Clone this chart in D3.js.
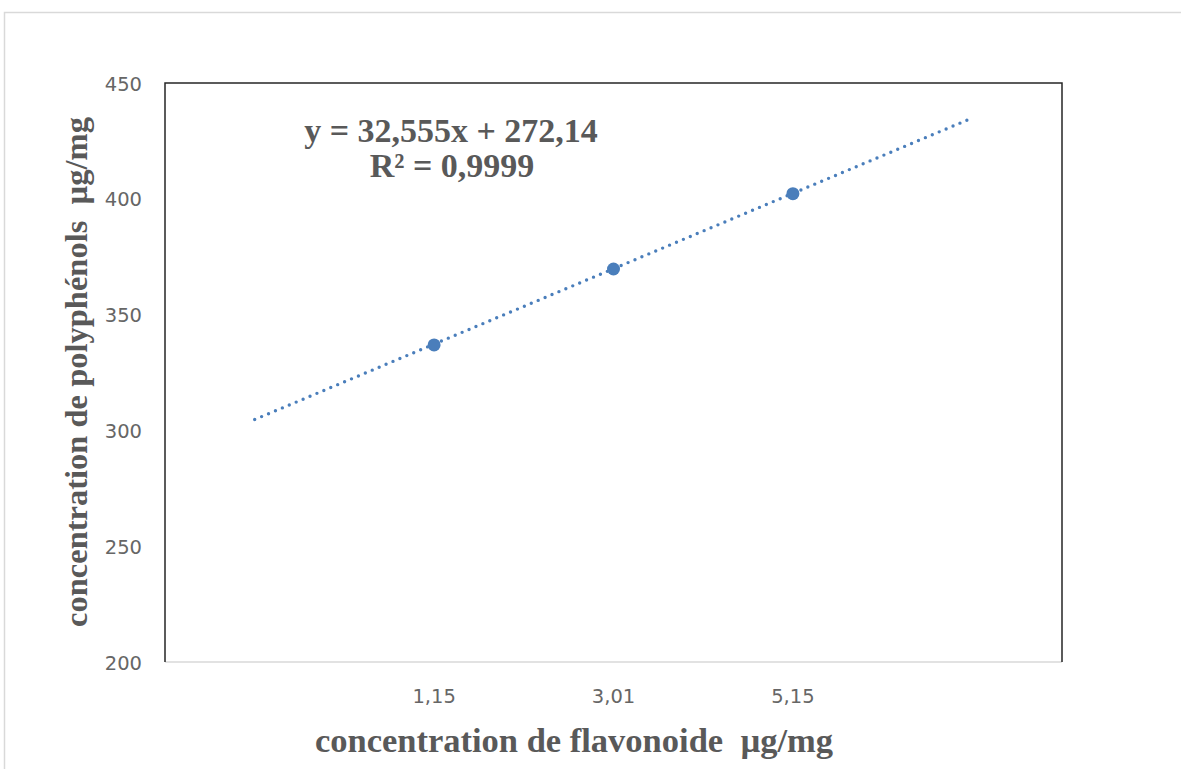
<!DOCTYPE html>
<html>
<head>
<meta charset="utf-8">
<script src="https://cdn.jsdelivr.net/npm/d3@7"></script>
<style>
  body { margin: 0; background: #fff; }
  svg { display: block; }
</style>
</head>
<body>
<svg width="1181" height="769"></svg>
<script>
// data
const categories = ['1,15', '3,01', '5,15'];
const polyphenols = [336.9, 369.7, 402.2];
const slope = 32.555, intercept = 272.14;   // trendline, x = 1..5 index
const trendRange = [1, 5];
const yTicks = [200, 250, 300, 350, 400, 450];

const svg = d3.select('svg');
const grey = '#595959', blue = '#4a7ebb';
const serif = 'Liberation Serif, Times New Roman, serif';
const sans = 'DejaVu Sans, sans-serif';

// outer frame
svg.append('rect').attr('x', 4.5).attr('y', 12.5).attr('width', 1190).attr('height', 800)
    .attr('fill', 'none').attr('stroke', '#d9d9d9').attr('stroke-width', 1.5);

const pLeft = 165, pRight = 1062, pTop = 83, pBottom = 662;

// index 0..6, points sit at 2,3,4 -> shift by half a category
const x = d3.scaleLinear().domain([0.5, 5.5]).range([pLeft, pRight]);
const y = d3.scaleLinear().domain([200, 450]).range([pBottom, pTop]);

// plot box
svg.append('line').attr('x1', pLeft).attr('x2', pRight).attr('y1', pBottom).attr('y2', pBottom)
    .attr('stroke', '#d9d9d9').attr('stroke-width', 1.5);
svg.append('path')
    .attr('d', `M${pLeft},${pBottom}V${pTop}H${pRight}V${pBottom}`)
    .attr('fill', 'none').attr('stroke', '#262626').attr('stroke-width', 1.5);

// y tick labels
svg.append('g').selectAll('text').data(yTicks).enter().append('text')
    .attr('x', pLeft - 23).attr('y', d => y(d) + 7.5)
    .attr('text-anchor', 'end')
    .attr('font-family', sans).attr('font-size', 19.5)
    .attr('fill', '#666').text(d => d);

// x tick labels
svg.append('g').selectAll('text').data(categories).enter().append('text')
    .attr('x', (d, i) => x(i + 2)).attr('y', 703)
    .attr('text-anchor', 'middle')
    .attr('font-family', sans).attr('font-size', 19.5)
    .attr('fill', '#666').text(d => d);

// trendline
const line = d3.line().x(d => x(d)).y(d => y(slope * d + intercept));
svg.append('path').datum(trendRange)
    .attr('d', line)
    .attr('fill', 'none').attr('stroke', blue).attr('stroke-width', 3.4)
    .attr('stroke-linecap', 'round').attr('stroke-dasharray', '0 7.5');

// points
svg.append('g').selectAll('circle').data(polyphenols).enter().append('circle')
    .attr('cx', (d, i) => x(i + 2)).attr('cy', d => y(d))
    .attr('r', 6.5).attr('fill', blue);

// equation
const eq = svg.append('text').attr('text-anchor', 'middle')
    .attr('font-family', serif)
    .attr('font-weight', 'bold').attr('font-size', 34).attr('fill', grey);
eq.append('tspan').attr('x', 451).attr('y', 142).text('y = 32,555x + 272,14');
eq.append('tspan').attr('x', 452).attr('y', 177).text('R² = 0,9999');

// axis titles
svg.append('text').attr('x', 574).attr('y', 752).attr('text-anchor', 'middle')
    .attr('font-family', serif)
    .attr('font-weight', 'bold').attr('font-size', 34.5).attr('fill', grey)
    .attr('xml:space', 'preserve')
    .text('concentration de flavonoide  µg/mg');

svg.append('text').attr('transform', 'translate(87,372) rotate(-90)')
    .attr('text-anchor', 'middle')
    .attr('font-family', serif)
    .attr('font-weight', 'bold').attr('font-size', 32.5).attr('fill', grey)
    .attr('xml:space', 'preserve')
    .text('concentration de polyphénols  µg/mg');
</script>
</body>
</html>
